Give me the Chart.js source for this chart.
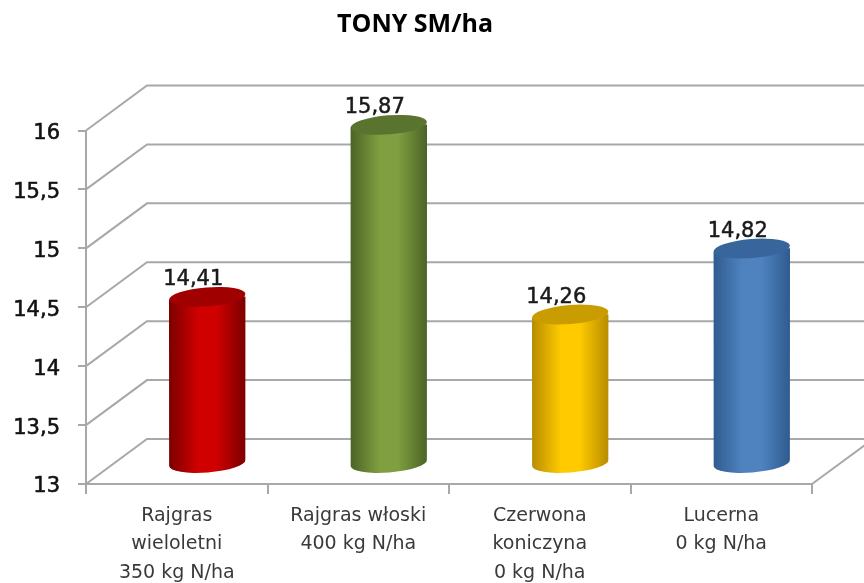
<!DOCTYPE html>
<html lang="pl">
<head>
<meta charset="utf-8">
<title>TONY SM/ha</title>
<script src="https://cdn.jsdelivr.net/npm/chart.js@4"></script>
<style>
    html, body { margin: 0; padding: 0; background: #fff; }
    canvas { display: block; filter: blur(0.35px); }
</style>
</head>
<body>
<canvas id="tonyChart" width="864" height="583"></canvas>
<script>
const categories = [
    ['Rajgras', 'wieloletni', '350 kg N/ha'],
    ['Rajgras włoski', '400 kg N/ha'],
    ['Czerwona', 'koniczyna', '0 kg N/ha'],
    ['Lucerna', '0 kg N/ha']
];
const values = [14.41, 15.87, 14.26, 14.82];
const edgeColors = ['#7c0000', '#4c6326', '#b88c00', '#2f5b8f'];
const midColors = ['#cf0000', '#7f9f40', '#ffcb00', '#4f83c0'];
const capColors = ['#a00000', '#5a7430', '#c99c00', '#38659c'];
const titleText = 'TONY SM/ha';
const axisMin = 13;
const axisMax = 16;
const axisStep = 0.5;

const gridColor = '#a8a8a8';
const depthX = 61;
const depthY = 45;
const barWidth = 76.5;
const capRadiusY = 9.5;
const capTilt = -4.5 * Math.PI / 180;
const capDrop = Math.sin(-capTilt) * barWidth / 2;

function formatValue(v, digits) {
    return (digits ? v.toFixed(digits) : String(v)).replace('.', ',');
}

function barGradient(context) {
    const chart = context.chart;
    const i = context.dataIndex;
    const cx = chart.scales.x ? chart.scales.x.getPixelForValue(i) : NaN;
    if (!Number.isFinite(cx)) return midColors[i];
    const g = chart.ctx.createLinearGradient(cx - barWidth / 2, 0, cx + barWidth / 2, 0);
    g.addColorStop(0, edgeColors[i]);
    g.addColorStop(0.38, midColors[i]);
    g.addColorStop(0.62, midColors[i]);
    g.addColorStop(1, edgeColors[i]);
    return g;
}

// kratka 3D: linie na tylnej scianie i skosy do osi Y
const wallPlugin = {
    id: 'wall',
    afterLayout(chart) {
        // tytul nie jest na srodku obrazka
        chart.titleBlock.right = 830;
    },
    beforeDatasetsDraw(chart) {
        const { ctx, chartArea, scales } = chart;
        ctx.save();
        ctx.strokeStyle = gridColor;
        ctx.lineWidth = 2;
        scales.y.ticks.forEach(tick => {
            const y = scales.y.getPixelForValue(tick.value);
            ctx.beginPath();
            ctx.moveTo(chartArea.left, y);
            ctx.lineTo(chartArea.left + depthX, y - depthY);
            ctx.lineTo(chart.width + 10, y - depthY);
            ctx.stroke();
        });
        const floorY = scales.y.getPixelForValue(axisMin);
        ctx.beginPath();
        ctx.moveTo(chartArea.right, floorY);
        ctx.lineTo(chartArea.right + depthX, floorY - depthY);
        ctx.stroke();

        // etykiety wartosci
        ctx.fillStyle = '#1a1a1a';
        ctx.strokeStyle = '#1a1a1a';
        ctx.lineWidth = 0.5;
        ctx.font = '21px "DejaVu Sans"';
        ctx.textAlign = 'center';
        ctx.textBaseline = 'middle';
        chart.getDatasetMeta(0).data.forEach((bar, i) => {
            const label = formatValue(values[i], 2);
            ctx.fillText(label, bar.x + 16.5, bar.y - 38);
            ctx.strokeText(label, bar.x + 16.5, bar.y - 38);
        });
        ctx.restore();
    },
    beforeDatasetDraw(chart, args) {
        const { ctx, scales } = chart;
        const floorY = scales.y.getPixelForValue(axisMin);
        ctx.save();
        ctx.translate(depthX / 2, -depthY / 2 + 1.5);
        // obcinamy slupki do ksztaltu walca
        ctx.beginPath();
        args.meta.data.forEach(bar => {
            const r = barWidth / 2;
            ctx.moveTo(bar.x - r, bar.y + capDrop);
            ctx.lineTo(bar.x + r, bar.y - capDrop);
            ctx.ellipse(bar.x, floorY, r, capRadiusY, capTilt, 0, Math.PI);
            ctx.closePath();
        });
        ctx.clip();
    },
    afterDatasetDraw(chart, args) {
        const { ctx } = chart;
        ctx.restore();
        ctx.save();
        ctx.translate(depthX / 2, -depthY / 2 + 1.5);
        args.meta.data.forEach((bar, i) => {
            ctx.fillStyle = capColors[i];
            ctx.beginPath();
            ctx.ellipse(bar.x, bar.y, barWidth / 2, capRadiusY, capTilt, 0, Math.PI * 2);
            ctx.fill();
        });
        ctx.restore();
    }
};

new Chart(document.getElementById('tonyChart'), {
    type: 'bar',
    data: {
        labels: categories,
        datasets: [{
            data: values,
            base: 12.8,
            clip: false,
            barThickness: barWidth,
            backgroundColor: barGradient,
            borderWidth: 0
        }]
    },
    options: {
        responsive: false,
        animation: false,
        layout: { padding: { top: 0, right: 52, bottom: 0, left: 0 } },
        plugins: {
            legend: { display: false },
            tooltip: { enabled: false },
            title: {
                display: true,
                text: titleText,
                color: '#000',
                font: { family: '"Open Sans"', size: 25, weight: 'bold' },
                padding: { top: 10, bottom: 90.5 }
            }
        },
        scales: {
            x: {
                afterFit(scale) { scale.height = 99; },
                border: { color: gridColor, width: 2 },
                grid: { color: gridColor, lineWidth: 2, drawOnChartArea: false, tickLength: 10 },
                ticks: {
                    color: '#3a3a3a',
                    padding: 8,
                    maxRotation: 0,
                    font: { family: '"DejaVu Sans"', size: 19, lineHeight: 1.49 }
                }
            },
            y: {
                min: axisMin,
                max: axisMax,
                afterFit(scale) { scale.width = 86; },
                border: { color: gridColor, width: 2 },
                grid: { color: gridColor, lineWidth: 2, drawOnChartArea: false, tickLength: 8 },
                ticks: {
                    stepSize: axisStep,
                    color: '#111',
                    padding: 18,
                    labelOffset: 3,
                    textStrokeColor: '#111',
                    textStrokeWidth: 0.6,
                    font: { family: '"DejaVu Sans"', size: 21 },
                    callback: v => formatValue(v)
                }
            }
        }
    },
    plugins: [wallPlugin]
});
</script>
</body>
</html>
